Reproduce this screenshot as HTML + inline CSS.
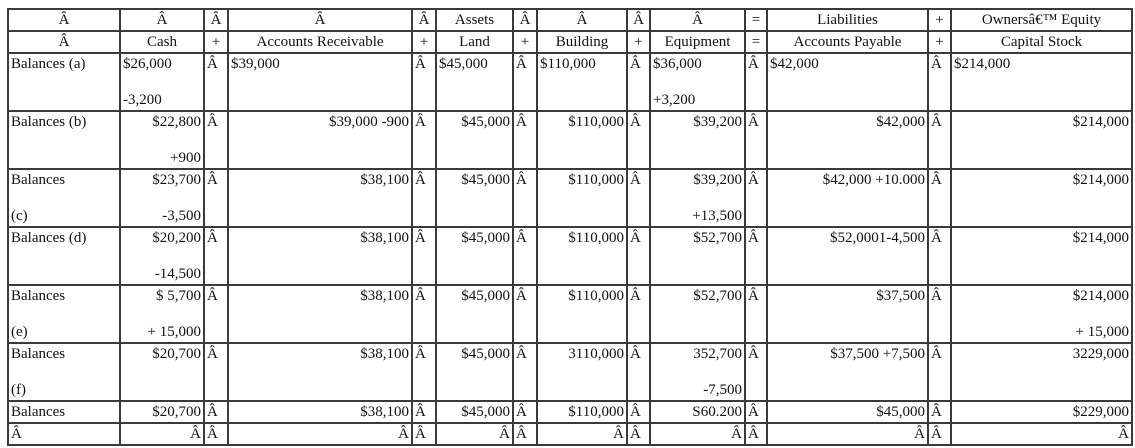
<!DOCTYPE html>
<html><head><meta charset="utf-8"><style>
body{margin:0;background:#fff;width:1135px;height:448px;overflow:hidden}
table{position:absolute;left:7px;top:8px;border-collapse:collapse;table-layout:fixed;width:1124px;font-family:"Liberation Serif",serif;font-size:15px;color:#111}
td{border:2px solid #3a3a3a;padding:0 2px;vertical-align:top;line-height:20px;overflow:hidden;white-space:nowrap}
tr.h td{height:20px;text-align:center}
tr.d td{height:56px}
tr.s td{height:20px}
.r{text-align:right}
.w{display:flex;flex-direction:column;justify-content:space-between;height:56px}
.w div{line-height:20px}
</style></head><body>
<table>
<colgroup><col style="width:112px"><col style="width:84px"><col style="width:24px"><col style="width:184px"><col style="width:24px"><col style="width:77px"><col style="width:24px"><col style="width:90px"><col style="width:23px"><col style="width:95px"><col style="width:22px"><col style="width:161px"><col style="width:23px"><col style="width:181px"></colgroup>
<tr class="h"><td>Â</td><td>Â</td><td>Â</td><td>Â</td><td>Â</td><td>Assets</td><td>Â</td><td>Â</td><td>Â</td><td>Â</td><td>=</td><td>Liabilities</td><td>+</td><td>Ownersâ€™ Equity</td></tr>
<tr class="h"><td>Â</td><td>Cash</td><td>+</td><td>Accounts Receivable</td><td>+</td><td>Land</td><td>+</td><td>Building</td><td>+</td><td>Equipment</td><td>=</td><td>Accounts Payable</td><td>+</td><td>Capital Stock</td></tr>
<tr class="d"><td>Balances (a)</td><td><div class="w"><div>$26,000</div><div>-3,200</div></div></td><td>Â</td><td>$39,000</td><td>Â</td><td>$45,000</td><td>Â</td><td>$110,000</td><td>Â</td><td><div class="w"><div>$36,000</div><div>+3,200</div></div></td><td>Â</td><td>$42,000</td><td>Â</td><td>$214,000</td></tr>
<tr class="d"><td>Balances (b)</td><td class="r"><div class="w"><div>$22,800</div><div>+900</div></div></td><td>Â</td><td class="r">$39,000 -900</td><td>Â</td><td class="r">$45,000</td><td>Â</td><td class="r">$110,000</td><td>Â</td><td class="r">$39,200</td><td>Â</td><td class="r">$42,000</td><td>Â</td><td class="r">$214,000</td></tr>
<tr class="d"><td><div class="w"><div>Balances</div><div>(c)</div></div></td><td class="r"><div class="w"><div>$23,700</div><div>-3,500</div></div></td><td>Â</td><td class="r">$38,100</td><td>Â</td><td class="r">$45,000</td><td>Â</td><td class="r">$110,000</td><td>Â</td><td class="r"><div class="w"><div>$39,200</div><div>+13,500</div></div></td><td>Â</td><td class="r">$42,000 +10.000</td><td>Â</td><td class="r">$214,000</td></tr>
<tr class="d"><td>Balances (d)</td><td class="r"><div class="w"><div>$20,200</div><div>-14,500</div></div></td><td>Â</td><td class="r">$38,100</td><td>Â</td><td class="r">$45,000</td><td>Â</td><td class="r">$110,000</td><td>Â</td><td class="r">$52,700</td><td>Â</td><td class="r">$52,0001-4,500</td><td>Â</td><td class="r">$214,000</td></tr>
<tr class="d"><td><div class="w"><div>Balances</div><div>(e)</div></div></td><td class="r"><div class="w"><div>$ 5,700</div><div>+ 15,000</div></div></td><td>Â</td><td class="r">$38,100</td><td>Â</td><td class="r">$45,000</td><td>Â</td><td class="r">$110,000</td><td>Â</td><td class="r">$52,700</td><td>Â</td><td class="r">$37,500</td><td>Â</td><td class="r"><div class="w"><div>$214,000</div><div>+ 15,000</div></div></td></tr>
<tr class="d"><td><div class="w"><div>Balances</div><div>(f)</div></div></td><td class="r">$20,700</td><td>Â</td><td class="r">$38,100</td><td>Â</td><td class="r">$45,000</td><td>Â</td><td class="r">3110,000</td><td>Â</td><td class="r"><div class="w"><div>352,700</div><div>-7,500</div></div></td><td>Â</td><td class="r">$37,500 +7,500</td><td>Â</td><td class="r">3229,000</td></tr>
<tr class="s"><td>Balances</td><td class="r">$20,700</td><td>Â</td><td class="r">$38,100</td><td>Â</td><td class="r">$45,000</td><td>Â</td><td class="r">$110,000</td><td>Â</td><td class="r">S60.200</td><td>Â</td><td class="r">$45,000</td><td>Â</td><td class="r">$229,000</td></tr>
<tr class="s"><td>Â</td><td class="r">Â</td><td>Â</td><td class="r">Â</td><td>Â</td><td class="r">Â</td><td>Â</td><td class="r">Â</td><td>Â</td><td class="r">Â</td><td>Â</td><td class="r">Â</td><td>Â</td><td class="r">Â</td></tr>
</table>
</body></html>
